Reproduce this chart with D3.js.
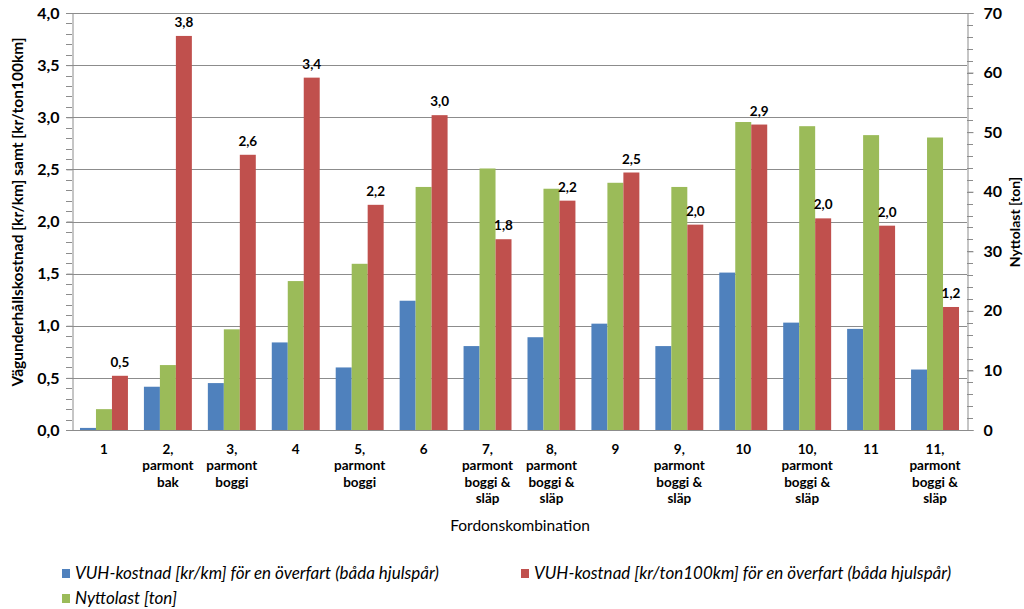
<!DOCTYPE html>
<html><head><meta charset="utf-8">
<script src="https://cdn.jsdelivr.net/npm/d3@7"></script>
<style>
body{margin:0;background:#fff;}
svg{display:block;font-family:Lato,"Open Sans",sans-serif;}
</style></head><body>
<svg id="c" width="1024" height="609"></svg>
<script>
const categories = [
  ["1"], ["2,", "parmont", "bak"], ["3,", "parmont", "boggi"], ["4"],
  ["5,", "parmont", "boggi"], ["6"], ["7,", "parmont", "boggi &", "släp"],
  ["8,", "parmont", "boggi &", "släp"], ["9"], ["9,", "parmont", "boggi &", "släp"],
  ["10"], ["10,", "parmont", "boggi &", "släp"], ["11"], ["11,", "parmont", "boggi &", "släp"]
];
const vuhKrKm = [0.02, 0.415, 0.45, 0.84, 0.60, 1.24, 0.805, 0.89, 1.02, 0.805, 1.51, 1.03, 0.97, 0.58];
const vuhKrTon = [0.52, 3.78, 2.64, 3.38, 2.16, 3.02, 1.83, 2.20, 2.47, 1.97, 2.93, 2.03, 1.96, 1.18];
const nyttolast = [3.5, 10.9, 16.9, 25.0, 27.9, 40.8, 43.9, 40.5, 41.5, 40.8, 51.7, 51.0, 49.5, 49.1];
const leftTicks = [0, 0.5, 1.0, 1.5, 2.0, 2.5, 3.0, 3.5, 4.0];
const rightTicks = [0, 10, 20, 30, 40, 50, 60, 70];
const seriesNames = [
  "VUH-kostnad [kr/km] för en överfart (båda hjulspår)",
  "VUH-kostnad [kr/ton100km] för en överfart (båda hjulspår)",
  "Nyttolast [ton]"
];
const colors = {blue:"#4F81BD", red:"#C0504D", green:"#9BBB59"};

const svg = d3.select("#c");
const L = 72, R = 967, T = 13, B = 430;
const x0 = d3.scaleBand().domain(d3.range(categories.length)).range([L, R]).padding(0);
const x1 = d3.scaleBand().domain(["blue","green","red"]).range([0, x0.bandwidth()]).paddingInner(0).paddingOuter(0.5);
const yL = d3.scaleLinear().domain([0, 4]).range([B, T]);
const yR = d3.scaleLinear().domain([0, 70]).range([B, T]);
const fmt = v => (Math.round(v * 10) / 10).toFixed(1).replace(".", ",");
const grid = "#8c8c8c";

// gridlines
svg.append("g").selectAll("line").data(leftTicks.slice(1)).join("line")
  .attr("x1", L).attr("x2", R).attr("y1", d => Math.round(yL(d))+0.5).attr("y2", d => Math.round(yL(d))+0.5)
  .attr("stroke", grid).attr("stroke-width", 1);

// bars
const data = categories.map((c, i) => ({i, blue: vuhKrKm[i], green: nyttolast[i], red: vuhKrTon[i]}));
const g = svg.append("g");
data.forEach(d => {
  g.append("rect").attr("x", x0(d.i) + x1("blue")).attr("width", x1.bandwidth())
    .attr("y", yL(d.blue)).attr("height", B - yL(d.blue)).attr("fill", colors.blue);
  g.append("rect").attr("x", x0(d.i) + x1("green")).attr("width", x1.bandwidth())
    .attr("y", yR(d.green)).attr("height", B - yR(d.green)).attr("fill", colors.green);
  g.append("rect").attr("x", x0(d.i) + x1("red")).attr("width", x1.bandwidth())
    .attr("y", yL(d.red)).attr("height", B - yL(d.red)).attr("fill", colors.red);
  g.append("text").attr("x", x0(d.i) + x1("red") + x1.bandwidth()/2).attr("y", yL(d.red) - 9)
    .attr("text-anchor", "middle").attr("font-size", 13.5).attr("font-weight", "bold").attr("fill", "#000")
    .text(fmt(d.red));
});

// left axis
const la = d3.axisLeft(yL).tickValues(leftTicks).tickFormat(fmt).tickSize(6).tickPadding(7);
const lg = svg.append("g").attr("transform", `translate(${L+0.5},0)`).call(la);
lg.select(".domain").attr("stroke", grid);
lg.selectAll(".tick line").attr("stroke", grid);
lg.selectAll("text").attr("font-size", 16).attr("font-weight", "bold").attr("fill", "#000").attr("font-family", "Lato");
svg.append("g").selectAll("line").data(d3.range(0, 41).map(v => v/10)).join("line")
  .attr("x1", L-6).attr("x2", L).attr("y1", d => Math.round(yL(d))+0.5).attr("y2", d => Math.round(yL(d))+0.5)
  .attr("stroke", grid);

// right axis
const ra = d3.axisRight(yR).tickValues(rightTicks).tickSize(6).tickPadding(10);
const rg = svg.append("g").attr("transform", `translate(${R+0.5},0)`).call(ra);
rg.select(".domain").attr("stroke", grid);
rg.selectAll(".tick line").attr("stroke", grid);
rg.selectAll("text").attr("font-size", 16).attr("font-weight", "bold").attr("fill", "#000").attr("font-family", "Lato");
svg.append("g").selectAll("line").data(d3.range(0, 71, 2)).join("line")
  .attr("x1", R).attr("x2", R+6).attr("y1", d => Math.round(yR(d))+0.5).attr("y2", d => Math.round(yR(d))+0.5)
  .attr("stroke", grid);

// x axis line
svg.append("line").attr("x1", L).attr("x2", R).attr("y1", B+0.5).attr("y2", B+0.5).attr("stroke", grid);

// x labels
categories.forEach((c, i) => {
  const t = svg.append("text").attr("text-anchor", "middle").attr("font-size", 13.5).attr("font-weight", "bold")
    .attr("fill", "#000");
  c.forEach((line, k) => {
    t.append("tspan").attr("x", x0(i) + x0.bandwidth()/2).attr("y", 454 + k*16.3).text(line);
  });
});

// axis titles
svg.append("text").attr("x", 520).attr("y", 531).attr("text-anchor", "middle").attr("font-size", 15.5)
  .attr("fill", "#000").text("Fordonskombination");
svg.append("text").attr("transform", "translate(23,212) rotate(-90)").attr("text-anchor", "middle")
  .attr("font-size", 15.5).attr("font-weight", "bold").attr("fill", "#000")
  .text("Vägunderhållskostnad [kr/km] samt [kr/ton100km]");
svg.append("text").attr("transform", "translate(1020,222) rotate(-90)").attr("text-anchor", "middle")
  .attr("font-size", 14).attr("font-weight", "bold").attr("fill", "#000").text("Nyttolast [ton]");

// legend
const legendPos = [[62, 569], [521, 569], [62, 594]];
const legendCols = [colors.blue, colors.red, colors.green];
seriesNames.forEach((n, i) => {
  const [lx, ly] = legendPos[i];
  svg.append("rect").attr("x", lx).attr("y", ly).attr("width", 8).attr("height", 9).attr("fill", legendCols[i]);
  svg.append("text").attr("x", lx + 13).attr("y", ly + 10).attr("font-size", 17).attr("font-style", "italic")
    .attr("fill", "#000").text(n);
});
</script>
</body></html>
